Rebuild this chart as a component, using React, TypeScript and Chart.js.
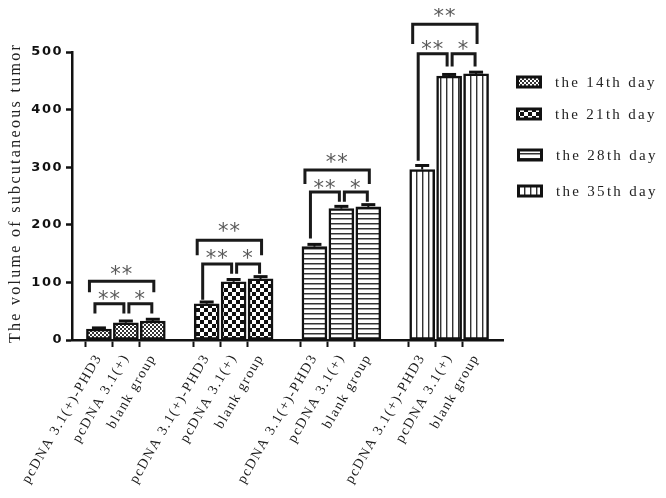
import { useEffect, useRef } from "react";
import { Chart, registerables } from "chart.js";

Chart.register(...registerables);

// ---------- data ----------
const groupNames = ["pcDNA 3.1(+)-PHD3", "pcDNA 3.1(+)", "blank group"];
const seriesNames = ["the 14th day", "the 21th day", "the 28th day", "the 35th day"];
const day14 = [19, 30, 33];
const day21 = [63, 101, 106];
const day28 = [162, 228, 231];
const day35 = [296, 458, 462];
const err14 = [2, 3, 3];
const err21 = [3, 4, 4];
const err28 = [4, 4, 4];
const err35 = [7, 3, 3];
const yTicks = [0, 100, 200, 300, 400, 500];
const yTitle = "The volume of subcutaneous tumor";

// significance annotations (in y-axis units), one per day block
const outerStars = ["**", "**", "**", "**"];
const abStars = ["**", "**", "**", "**"];
const bcStars = ["*", "*", "*", "*"];
const outerBracketY = [102, 173, 295, 548];
const outerLegY = [83, 147, 271, 514];
const outerStarY = [124, 199, 318, 572];
const innerBracketY = [63, 132, 257, 497];
const innerLeftLegY = [46, 70, 176, 311];
const innerRightLegY = [46, 115, 240, 475];
const innerStarY = [81, 152, 274, 515];

const values = [day14, day21, day28, day35];
const errors = [err14, err21, err28, err35];

// category slots: gap, 3 bars, gap, 3 bars ... gap
const labels: string[] = [""];
values.forEach(() => {
  groupNames.forEach((g) => labels.push(g));
  labels.push("");
});
const slotIndex = (d: number, j: number) => 1 + d * 4 + j;

export default function App() {
  const ref = useRef<HTMLCanvasElement>(null);

  useEffect(() => {
    const canvas = ref.current!;
    const mainCtx = canvas.getContext("2d")!;
    const mk = (w: number, h: number, draw: (g: CanvasRenderingContext2D) => void) => {
      const c = document.createElement("canvas");
      c.width = w;
      c.height = h;
      const g = c.getContext("2d")!;
      g.fillStyle = "#fff";
      g.fillRect(0, 0, w, h);
      draw(g);
      return mainCtx.createPattern(c, "repeat")!;
    };
    const patterns = [
      mk(4, 4, (g) => {
        g.fillStyle = "#333";
        g.fillRect(0, 0, 2, 2);
        g.fillRect(2, 2, 2, 2);
      }),
      mk(8, 8, (g) => {
        g.fillStyle = "#111";
        g.fillRect(0, 0, 4, 4);
        g.fillRect(4, 4, 4, 4);
      }),
      mk(4, 5, (g) => {
        g.fillStyle = "#333";
        g.fillRect(0, 0, 4, 1);
        g.fillStyle = "#999";
        g.fillRect(0, 1, 4, 1);
      }),
      mk(6, 4, (g) => {
        g.fillStyle = "#333";
        g.fillRect(0, 0, 1, 4);
        g.fillStyle = "#aaa";
        g.fillRect(1, 0, 1, 4);
      }),
    ];

    const datasets = values.map((vals, d) => {
      const data: (number | null)[] = labels.map(() => null);
      vals.forEach((v, j) => (data[slotIndex(d, j)] = v));
      return {
        label: seriesNames[d],
        data,
        backgroundColor: patterns[d],
        borderColor: "#111",
        borderWidth: 2.5,
        borderSkipped: false as const,
        barThickness: 25,
        grouped: false,
        skipNull: true,
      };
    });

    const spacing = {
      id: "spacing",
      beforeUpdate(chart: any) {
        chart.ctx.letterSpacing = "1.5px";
      },
      beforeDraw(chart: any) {
        chart.ctx.letterSpacing = "1.5px";
      },
    };

    const annot = {
      id: "annot",
      afterDraw(chart: any) {
        const ctx: CanvasRenderingContext2D = chart.ctx;
        const xs = chart.scales.x;
        const ys = chart.scales.y;
        const py = (v: number) => ys.getPixelForValue(v);
        ctx.save();
        // error bars
        ctx.strokeStyle = "#111";
        values.forEach((vals, d) =>
          vals.forEach((v, j) => {
            const x = xs.getPixelForValue(slotIndex(d, j));
            const top = py(v);
            const et = py(v + errors[d][j]);
            ctx.lineWidth = 2;
            ctx.beginPath();
            ctx.moveTo(x, top);
            ctx.lineTo(x, et);
            ctx.stroke();
            ctx.lineWidth = 3;
            ctx.beginPath();
            ctx.moveTo(x - 7, et);
            ctx.lineTo(x + 7, et);
            ctx.stroke();
          })
        );
        // brackets
        const bracket = (x1: number, x2: number, yv: number, l1: number, l2: number) => {
          ctx.strokeStyle = "#1a1a1a";
          ctx.lineWidth = 3;
          ctx.lineJoin = "miter";
          ctx.beginPath();
          ctx.moveTo(x1, py(l1));
          ctx.lineTo(x1, py(yv));
          ctx.lineTo(x2, py(yv));
          ctx.lineTo(x2, py(l2));
          ctx.stroke();
        };
        const stars = (t: string, x: number, yv: number) => {
          ctx.font = '21px "DejaVu Sans"';
          ctx.fillStyle = "#5a5a5a";
          ctx.textAlign = "center";
          ctx.textBaseline = "alphabetic";
          (ctx as any).letterSpacing = "1px";
          ctx.fillText(t, x, py(yv) + 12.5);
        };
        values.forEach((_, d) => {
          const a = xs.getPixelForValue(slotIndex(d, 0));
          const b = xs.getPixelForValue(slotIndex(d, 1));
          const c = xs.getPixelForValue(slotIndex(d, 2));
          bracket(a - 9.5, c + 1, outerBracketY[d], outerLegY[d], outerLegY[d]);
          bracket(a - 4, b - 2, innerBracketY[d], innerLeftLegY[d], innerRightLegY[d]);
          bracket(b + 3, c - 1, innerBracketY[d], innerRightLegY[d], innerRightLegY[d]);
          stars(outerStars[d], (a - 9.5 + c + 1) / 2, outerStarY[d]);
          stars(abStars[d], (a - 4 + b - 2) / 2, innerStarY[d]);
          stars(bcStars[d], (b + 3 + c - 1) / 2, innerStarY[d]);
        });
        // y title
        ctx.save();
        ctx.translate(7.5, 185);
        ctx.rotate(-Math.PI / 2);
        ctx.font = '16px "Liberation Serif"';
        ctx.fillStyle = "#222";
        (ctx as any).letterSpacing = "2.3px";
        ctx.textAlign = "center";
        ctx.textBaseline = "middle";
        ctx.fillText(yTitle, 0, 0);
        ctx.restore();
        // legend
        const ly = [74, 106, 147, 183];
        seriesNames.forEach((name, d) => {
          const bx = 508 + (d >= 2 ? 1 : 0);
          const by = ly[d] - 6.5;
          ctx.fillStyle = "#111";
          ctx.fillRect(bx, by, 26, 13);
          ctx.fillStyle = patterns[d];
          ctx.fillRect(bx + 3, by + 3, 20, 7);
          ctx.font = '15px "Liberation Serif"';
          ctx.fillStyle = "#222";
          (ctx as any).letterSpacing = "2.3px";
          ctx.textAlign = "left";
          ctx.textBaseline = "middle";
          ctx.fillText(name, bx + 39, ly[d] + 1);
        });
        ctx.restore();
      },
    };

    const chart = new Chart(canvas, {
      type: "bar",
      data: { labels, datasets: datasets as any },
      plugins: [spacing, annot],
      options: {
        responsive: false,
        animation: false,
        layout: { padding: { top: 44, right: 155, left: 0, bottom: 0 } },
        plugins: { legend: { display: false }, tooltip: { enabled: false } },
        scales: {
          x: {
            type: "category",
            offset: false,
            afterFit: (s: any) => {
              s.height = 150;
            },
            border: { display: true, width: 2.5, color: "#111" },
            grid: {
              drawOnChartArea: false,
              drawTicks: true,
              tickLength: 7,
              tickWidth: 2,
              tickColor: (c: any) => (labels[c.index] ? "#111" : "rgba(0,0,0,0)"),
            },
            ticks: {
              autoSkip: false,
              minRotation: 60,
              maxRotation: 60,
              padding: 4,
              color: "#1a1a1a",
              font: { family: "Liberation Serif", size: 14 },
            },
          },
          y: {
            min: 0,
            max: 500,
            afterFit: (s: any) => {
              s.width = 64;
            },
            afterBuildTicks: (s: any) => {
              s.ticks = yTicks.map((v) => ({ value: v }));
            },
            border: { display: true, width: 2.5, color: "#111" },
            grid: {
              drawOnChartArea: false,
              tickLength: 6,
              tickWidth: 2.5,
              tickColor: "#111",
            },
            ticks: {
              padding: 3,
              color: "#111",
              font: { family: "DejaVu Sans", weight: "bold", size: 13 },
            },
          },
        },
      },
    });
    return () => chart.destroy();
  }, []);

  return <canvas ref={ref} width={650} height={482} />;
}
